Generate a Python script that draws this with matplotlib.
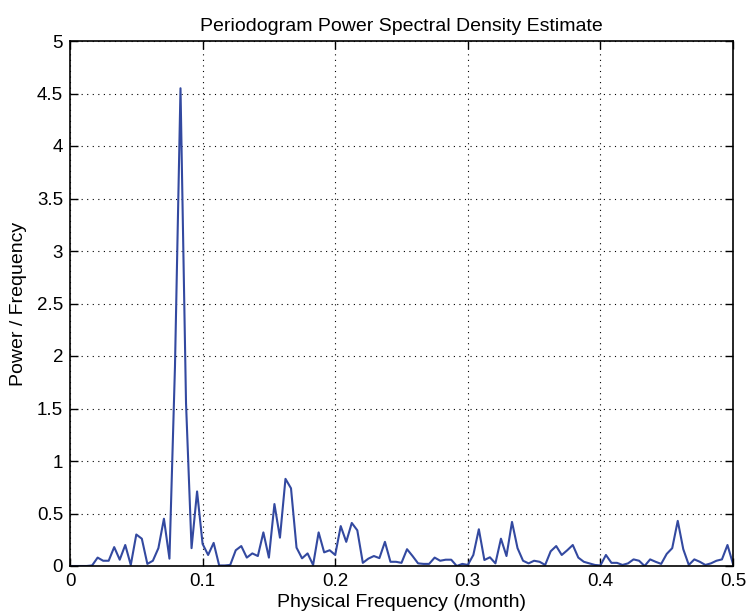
import numpy as np
import matplotlib
matplotlib.use("Agg")
import matplotlib.pyplot as plt

# periodogram of a 240-month record, bins k/240 up to Nyquist
n_months = 240
power = [
    0.0, 0.0, 0.0, 0.0, 0.005, 0.08, 0.05, 0.05, 0.18, 0.06,
    0.2, 0.01, 0.30, 0.26, 0.02, 0.05, 0.17, 0.45, 0.07, 1.9,
    4.55, 1.55, 0.17, 0.71, 0.21, 0.105, 0.22, 0.005, 0.005, 0.01,
    0.15, 0.19, 0.08, 0.12, 0.095, 0.32, 0.08, 0.59, 0.27, 0.83,
    0.74, 0.175, 0.073, 0.12, 0.01, 0.32, 0.13, 0.15, 0.105, 0.38,
    0.23, 0.41, 0.34, 0.03, 0.07, 0.095, 0.075, 0.23, 0.04, 0.04,
    0.03, 0.16, 0.095, 0.025, 0.02, 0.02, 0.08, 0.05, 0.06, 0.06,
    0.0, 0.02, 0.01, 0.105, 0.35, 0.057, 0.083, 0.025, 0.26, 0.095,
    0.42, 0.17, 0.05, 0.025, 0.05, 0.04, 0.01, 0.14, 0.19, 0.105,
    0.15, 0.2, 0.08, 0.04, 0.025, 0.01, 0.005, 0.105, 0.03, 0.03,
    0.01, 0.025, 0.063, 0.05, 0.0, 0.063, 0.04, 0.02, 0.115, 0.17,
    0.43, 0.16, 0.01, 0.063, 0.04, 0.01, 0.025, 0.05, 0.063, 0.2,
    0.02,
]
freq = np.arange(len(power)) / n_months

xticks = [0, 0.1, 0.2, 0.3, 0.4, 0.5]
xticklabels = ["0", "0.1", "0.2", "0.3", "0.4", "0.5"]
yticks = [0, 0.5, 1, 1.5, 2, 2.5, 3, 3.5, 4, 4.5, 5]
yticklabels = ["0", "0.5", "1", "1.5", "2", "2.5", "3", "3.5", "4", "4.5", "5"]

plt.rcParams["font.family"] = ["Liberation Sans", "DejaVu Sans"]

fig = plt.figure(figsize=(7.48, 6.16), dpi=100)
ax = fig.add_axes([70 / 748, 50 / 616, 663 / 748, 525 / 616])

ax.plot(freq, power, color="#3349a0", linewidth=1.5)

ax.set_xlim(0, 0.5)
ax.set_ylim(0, 5)
ax.set_xticks(xticks)
ax.set_xticklabels(xticklabels)
ax.set_yticks(yticks)
ax.set_yticklabels(yticklabels)
ax.tick_params(direction="in", length=6, width=1, labelsize=13.5,
               top=True, right=True, pad=5)
ax.grid(True, linestyle=(0, (1, 4)), color="black", linewidth=0.8)
for s in ax.spines.values():
    s.set_linewidth(1.2)

ax.set_title("Periodogram Power Spectral Density Estimate", fontsize=14, pad=7)
ax.set_xlabel("Physical Frequency (/month)", fontsize=14, labelpad=3)
ax.set_ylabel("Power / Frequency", fontsize=14, labelpad=7)

fig.savefig("out.png", dpi=100)
